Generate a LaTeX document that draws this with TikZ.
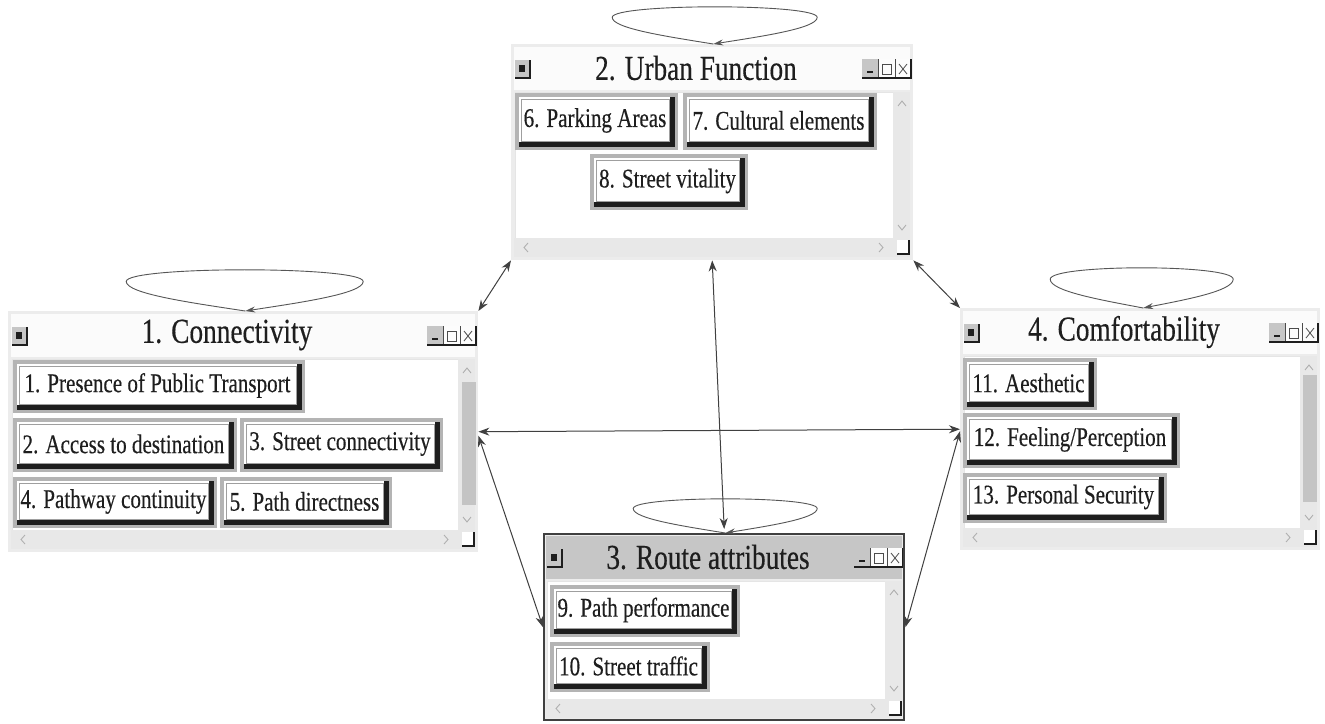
\documentclass[tikz,border=0pt]{standalone}
\usepackage{fontspec}
\newfontfamily\condfont{Liberation Serif}[FakeStretch=0.78,FakeBold=0.35]
\usetikzlibrary{arrows.meta,calc}
\definecolor{frame}{HTML}{ECECEC}
\definecolor{titlebg}{HTML}{FBFBFB}
\definecolor{scroll}{HTML}{E8E8E8}
\definecolor{thumb}{HTML}{C4C4C4}
\definecolor{halo}{HTML}{B4B4B4}
\definecolor{ink}{HTML}{1E1E1E}
\definecolor{barsel}{HTML}{C6C6C6}
\definecolor{chev}{HTML}{B0B0B0}
\tikzset{
  wintitle/.style={font=\condfont\fontsize{35}{38}\selectfont, text=ink, inner sep=0pt},
  btntext/.style={font=\condfont\fontsize{27}{29}\selectfont, text=ink, inner sep=0pt},
  conn/.style={{Stealth[length=11pt,width=8pt]}-{Stealth[length=11pt,width=8pt]}, line width=1pt, draw=ink!85},
  loopline/.style={-{Stealth[length=10pt,width=6pt]}, line width=0.9pt, draw=ink!75},
  chevline/.style={draw=chev, line width=0.9pt},
}
% window: #1 name, #2 x1, #3 y1, #4 x2, #5 y2, #6 title, #7 title fill
\newcommand\drawwin[7]{%
  \node[inner sep=0pt, minimum width={#4-#2}, minimum height={#5-#3}, anchor=north west] (#1) at (#2,#3) {};
  \fill[frame] (#2,#3) rectangle (#4,#5);
  \fill[#7] ({#2+3},{#3+3}) rectangle ({#4-3},{#3+46});
  \fill[white] ({#2+4},{#3+48}) rectangle ({#4-20},{#5-22});
  \draw[black!10] ({#2+4},{#3+48}) rectangle ({#4-20},{#5-22});
  \fill[scroll] ({#4-20},{#3+48}) rectangle ({#4-3},{#5-22});
  \fill[scroll] ({#2+3},{#5-22}) rectangle ({#4-3},{#5-3});
  \draw[chevline] ({#4-15},{#3+62}) -- ({#4-11},{#3+57}) -- ({#4-7},{#3+62});
  \draw[chevline] ({#4-15},{#5-35}) -- ({#4-11},{#5-30}) -- ({#4-7},{#5-35});
  \draw[chevline] ({#2+17},{#5-17}) -- ({#2+13},{#5-12.5}) -- ({#2+17},{#5-8});
  \draw[chevline] ({#4-34},{#5-17}) -- ({#4-30},{#5-12.5}) -- ({#4-34},{#5-8});
  \fill[white] ({#4-16},{#5-20}) rectangle ({#4-4},{#5-6});
  \draw[ink, line width=1.5pt] ({#4-16},{#5-6}) -- ({#4-4},{#5-6}) -- ({#4-4},{#5-20});
  % system icon
  \fill[barsel] ({#2+4},{#3+16}) rectangle ({#2+19},{#3+34});
  \draw[ink, line width=1.3pt] ({#2+4},{#3+34}) -- ({#2+19},{#3+34}) -- ({#2+19},{#3+16});
  \fill[ink] ({#2+8},{#3+21}) rectangle ({#2+14},{#3+28});
  % min / max / close
  \fill[barsel] ({#4-51},{#3+15}) rectangle ({#4-35},{#3+34});
  \fill[white!85!frame] ({#4-35},{#3+15}) rectangle ({#4-2},{#3+34});
  \draw[ink, line width=1.4pt] ({#4-46},{#3+28}) -- ({#4-40},{#3+28});
  \draw[ink!80, line width=0.8pt] ({#4-35},{#3+15}) -- ({#4-35},{#3+34});
  \draw[ink!80, line width=0.8pt] ({#4-18},{#3+15}) -- ({#4-18},{#3+34});
  \draw[ink!80, line width=0.8pt] ({#4-31},{#3+20}) rectangle ({#4-22},{#3+30});
  \draw[ink!80, line width=0.8pt] ({#4-14},{#3+20}) -- ({#4-6},{#3+30});
  \draw[ink!80, line width=0.8pt] ({#4-14},{#3+30}) -- ({#4-6},{#3+20});
  \draw[ink, line width=1.3pt] ({#4-51},{#3+34}) -- ({#4-2},{#3+34}) -- ({#4-2},{#3+15});
  \node[wintitle] (#1t) at ({(#2+#4-32)/2},{#3+24}) {#6};
}
% button: #1 name, #2 x1, #3 y1, #4 x2, #5 y2, #6 text
\newcommand\btn[6]{%
  \fill[halo] (#2,#3) rectangle (#4,#5);
  \fill[ink] ({#2+4},{#3+4}) rectangle ({#4-3},{#5-3});
  \fill[white] ({#2+4},{#3+4}) rectangle ({#4-8},{#5-8});
  \fill[gray!75] ({#2+6},{#3+6}) rectangle ({#4-8},{#5-8});
  \fill[white] ({#2+7},{#3+7}) rectangle ({#4-9},{#5-9});
  \node[btntext] (#1) at ({(#2+#4-3)/2},{(#3+#5-2)/2}) {#6};
}
% self loop above window: #1 window node, #2 left reach, #3 right reach, #4 height, #5 x shift of tip
\newcommand\winloop[5]{%
  \coordinate (#1tip) at ($(#1.north)+(#5,0)$);
  \draw[loopline] (#1tip)
    .. controls ($(#1tip)+({-0.45*#2},{-0.2*#4})$) and ($(#1tip)+({-#2},{-0.42*#4})$) .. ($(#1tip)+({-#2},{-0.72*#4})$)
    .. controls ($(#1tip)+({-#2},{-1.1*#4})$) and ($(#1tip)+({#3},{-1.1*#4})$) .. ($(#1tip)+({#3},{-0.72*#4})$)
    .. controls ($(#1tip)+({#3},{-0.42*#4})$) and ($(#1tip)+({0.45*#3},{-0.2*#4})$) .. (#1tip);
}
\begin{document}
\begin{tikzpicture}[x=1pt,y=-1pt]
\useasboundingbox (0,0) rectangle (1325,723);
\fill[white] (0,0) rectangle (1325,723);

% Window 2
\drawwin{w2}{511}{44}{913}{260}{2. Urban Function}{titlebg}
\btn{b6}{515}{93}{678}{150}{6. Parking Areas}
\btn{b7}{683}{93}{877}{150}{7. Cultural elements}
\btn{b8}{590}{154}{748}{210}{8. Street vitality}

% Window 1
\drawwin{w1}{8}{311}{478}{552}{1. Connectivity}{titlebg}
\fill[thumb] (462,382) rectangle (476,505);
\btn{b1}{13}{360}{305}{413}{1. Presence of Public Transport}
\btn{b2}{13}{418}{237}{472}{2. Access to destination}
\btn{b3}{240}{418}{443}{472}{3. Street connectivity}
\btn{b4}{13}{477}{217}{528}{4. Pathway continuity}
\btn{b5}{220}{477}{392}{528}{5. Path directness}

% Window 4
\drawwin{w4}{960}{308}{1320}{550}{4. Comfortability}{titlebg}
\fill[thumb] (1303,375) rectangle (1317,502);
\btn{b11}{963}{358}{1097}{410}{11. Aesthetic}
\btn{b12}{963}{413}{1180}{468}{12. Feeling/Perception}
\btn{b13}{963}{473}{1167}{523}{13. Personal Security}

% Window 3 (active)
\drawwin{w3}{543}{533}{905}{721}{3. Route attributes}{barsel}
\draw[ink!85, line width=2pt] (544,534) rectangle (904,720);
\btn{b9}{550}{585}{740}{637}{9. Path performance}
\btn{b10}{550}{642}{710}{692}{10. Street traffic}

% self loops
\winloop{w2}{101}{104}{37}{1}
\winloop{w1}{119}{118}{41}{2}
\winloop{w3}{92}{92}{34}{1}
\winloop{w4}{93}{90}{40}{3}

% connectors
\draw[conn] (w2.south west) -- (w1.north east);
\draw[conn] (w2.south east) -- (w4.north west);
\draw[conn] (w2.south) -- ([yshift=4pt]w3.north);
\draw[conn] (w1.east) -- (w4.west);
\draw[conn] ([yshift=-4pt]w1.east) -- (w3.west);
\draw[conn] ([yshift=-2pt]w4.west) -- (w3.east);
\end{tikzpicture}
\end{document}
